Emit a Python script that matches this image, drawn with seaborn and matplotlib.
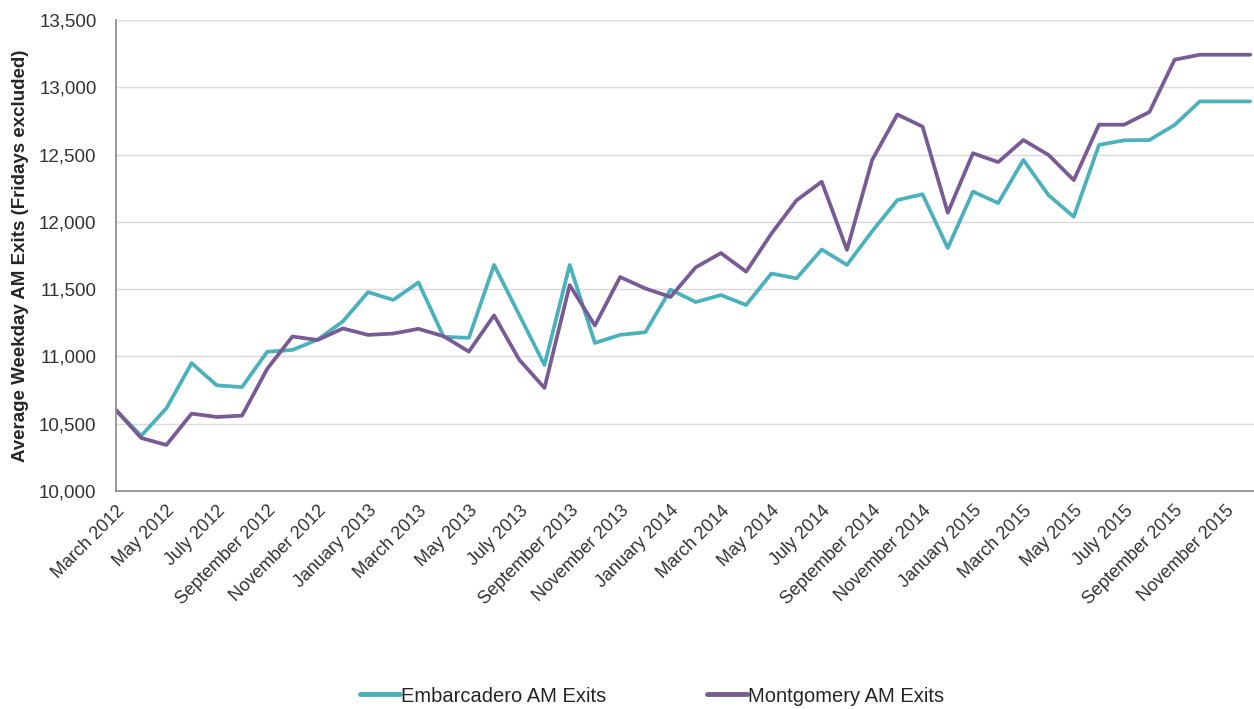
import numpy as np
import pandas as pd
import matplotlib
matplotlib.use("Agg")
import matplotlib.pyplot as plt
import seaborn as sns

# monthly averages, March 2012 .. December 2015
months = pd.date_range("2012-03-01", periods=46, freq="MS").strftime("%B %Y").tolist()

embarcadero = [10600, 10410, 10615, 10950, 10785, 10772, 11035, 11048, 11125, 11260,
               11478, 11420, 11550, 11146, 11138, 11680, 11308, 10936, 11680, 11100,
               11160, 11180, 11497, 11404, 11456, 11382, 11616, 11580, 11795, 11680,
               11930, 12162, 12205, 11806, 12225, 12140, 12460, 12198, 12038, 12572,
               12606, 12608, 12720, 12895, 12895, 12895]

montgomery = [10602, 10394, 10342, 10575, 10550, 10560, 10908, 11148, 11122, 11208,
              11160, 11170, 11205, 11150, 11036, 11305, 10975, 10766, 11530, 11230,
              11590, 11505, 11442, 11662, 11768, 11630, 11912, 12160, 12298, 11792,
              12460, 12798, 12708, 12068, 12510, 12444, 12608, 12497, 12310, 12722,
              12722, 12816, 13205, 13242, 13242, 13242]

series_names = ["Embarcadero AM Exits", "Montgomery AM Exits"]
colors = ["#4bb1bc", "#785a95"]

y_ticks = [10000, 10500, 11000, 11500, 12000, 12500, 13000, 13500]

df = pd.DataFrame({
    "idx": list(range(len(months))) * 2,
    "value": embarcadero + montgomery,
    "series": [series_names[0]] * len(months) + [series_names[1]] * len(months),
})

sns.set_style("white")
plt.rcParams["font.family"] = ["Liberation Sans", "DejaVu Sans"]

fig = plt.figure(figsize=(12.54, 7.09), dpi=100)
ax = fig.add_axes([116 / 1254, 1 - 491 / 709, (1254 - 116) / 1254, (491 - 20) / 709])

sns.lineplot(data=df, x="idx", y="value", hue="series", palette=colors,
             linewidth=2.7, ax=ax, legend=False)

ax.set_xlim(0, len(months) - 0.85)
ax.set_ylim(10000, 13500)
ax.set_yticks(y_ticks)
ax.set_yticklabels([f"{v:,}" for v in y_ticks], fontsize=13.5, color="#333333")
ax.yaxis.grid(True, color="#d9d9d9", linewidth=1)
ax.xaxis.grid(False)

ax.set_xticks(range(0, len(months), 2))
ax.set_xticklabels(months[::2], rotation=45, ha="right", rotation_mode="anchor",
                   fontsize=13, color="#333333")
ax.tick_params(axis="x", direction="out", length=5, color="#888888", width=1, pad=3)
ax.tick_params(axis="y", direction="out", length=5, color="#888888", width=1, pad=9)

for side in ["top", "right"]:
    ax.spines[side].set_visible(False)
for side in ["left", "bottom"]:
    ax.spines[side].set_color("#888888")
    ax.spines[side].set_linewidth(1.2)

ax.set_xlabel("")
ax.set_ylabel("Average Weekday AM Exits (Fridays excluded)", fontsize=13.5,
              fontweight="bold", labelpad=7)

handles = [plt.Line2D([], [], color=c, linewidth=3.5) for c in colors]
fig.legend(handles, series_names, loc="center", bbox_to_anchor=(0.52, 1 - 696 / 709),
           ncol=2, frameon=False, handlelength=2.0, handletextpad=0.05,
           columnspacing=5.0, prop={"size": 14.5})

fig.savefig("out.png", dpi=100)
